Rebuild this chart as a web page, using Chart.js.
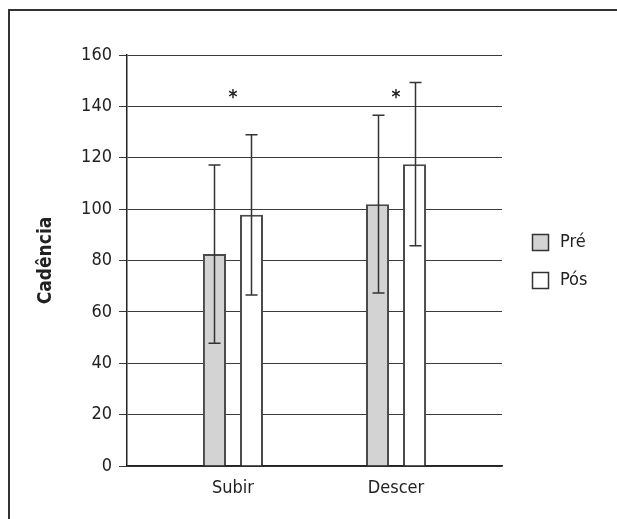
<!DOCTYPE html>
<html>
<head>
<meta charset="utf-8">
<script src="https://cdn.jsdelivr.net/npm/chart.js@4/dist/chart.umd.min.js"></script>
<style>
  html, body { margin: 0; padding: 0; background: #fff; }
  #wrap { position: relative; width: 617px; height: 519px; }
  #frame { position: absolute; left: 8px; top: 9px; width: 700px; height: 600px;
           border-top: 2px solid #333; border-left: 2px solid #333; pointer-events: none; }
</style>
</head>
<body>
<div id="wrap">
  <canvas id="c" width="617" height="519"></canvas>
  <div id="frame"></div>
</div>
<script>
const categories = ['Subir', 'Descer'];
const seriesNames = ['Pré', 'Pós'];
const preMeans = [82.5, 101.9];
const preSD = [34.7, 34.6];
const posMeans = [97.8, 117.5];
const posSD = [31.2, 31.8];
const significance = ['*', '*'];
const significanceLevel = 145;
const yTicks = [0, 20, 40, 60, 80, 100, 120, 140, 160];

const FONT = '"DejaVu Sans Condensed", "Liberation Sans Narrow", "Arial Narrow", "DejaVu Sans", sans-serif';

const toPoints = (vals) => vals.map((v, i) => ({ x: i + 1, y: v }));

const errorBars = {
  id: 'errorBars',
  afterDatasetsDraw(chart) {
    const ctx = chart.ctx;
    const ys = chart.scales.y;
    chart.data.datasets.forEach((ds, di) => {
      const meta = chart.getDatasetMeta(di);
      meta.data.forEach((bar, j) => {
        const m = ds.data[j].y, e = ds.errors[j];
        const yt = ys.getPixelForValue(m + e), yb = ys.getPixelForValue(m - e);
        const x = Math.round(bar.x) + 0.5;
        ctx.save();
        ctx.strokeStyle = '#333';
        ctx.lineWidth = 1.5;
        ctx.beginPath();
        ctx.moveTo(x, yt); ctx.lineTo(x, yb);
        ctx.moveTo(x - 6, yt); ctx.lineTo(x + 6, yt);
        ctx.moveTo(x - 6, yb); ctx.lineTo(x + 6, yb);
        ctx.stroke();
        ctx.restore();
      });
    });
    const xs = chart.scales.x;
    ctx.save();
    ctx.fillStyle = '#222';
    ctx.font = 'bold 19px ' + FONT;
    ctx.textAlign = 'center';
    ctx.textBaseline = 'alphabetic';
    significance.forEach((s, i) => {
      if (!s) return;
      ctx.fillText(s, xs.getPixelForValue(i + 1), ys.getPixelForValue(significanceLevel) + 9);
    });
    ctx.restore();
  }
};

const sideLegend = {
  id: 'sideLegend',
  afterDraw(chart) {
    const ctx = chart.ctx;
    const a = chart.chartArea;
    const cy = (a.top + a.bottom) / 2;
    const n = chart.data.datasets.length;
    const gap = 38;
    ctx.save();
    chart.data.datasets.forEach((ds, i) => {
      const y = cy + (i - (n - 1) / 2) * gap;
      const bx = a.right + 30.5, by = Math.round(y - 8) + 0.5;
      ctx.fillStyle = ds.backgroundColor;
      ctx.fillRect(bx, by, 16, 16);
      ctx.strokeStyle = '#333';
      ctx.lineWidth = 1.5;
      ctx.strokeRect(bx, by, 16, 16);
      ctx.fillStyle = '#222';
      ctx.font = '18px ' + FONT;
      ctx.textAlign = 'left';
      ctx.textBaseline = 'middle';
      ctx.fillText(ds.label, a.right + 58, y + 1);
    });
    ctx.restore();
  }
};

new Chart(document.getElementById('c'), {
  type: 'bar',
  data: {
    datasets: [
      { label: seriesNames[0], data: toPoints(preMeans), errors: preSD,
        backgroundColor: '#d3d3d3', borderColor: '#4a4a4a', borderWidth: 2 },
      { label: seriesNames[1], data: toPoints(posMeans), errors: posSD,
        backgroundColor: '#ffffff', borderColor: '#4a4a4a', borderWidth: 2 }
    ]
  },
  options: {
    responsive: false,
    animation: false,
    layout: { padding: { top: 55, right: 115, left: 0, bottom: 0 } },
    categoryPercentage: 0.454,
    barPercentage: 0.622,
    plugins: { legend: { display: false }, tooltip: { enabled: false } },
    scales: {
      x: {
        type: 'linear',
        offset: false,
        bounds: 'data',
        min: 0.35, max: 2.65,
        afterBuildTicks: (s) => { s.ticks = categories.map((c, i) => ({ value: i + 1 })); },
        afterFit: (s) => { s.height = 53; },
        grid: { display: false, drawTicks: false, offset: false },
        border: { display: true, color: '#222', width: 1.5 },
        ticks: {
          padding: 12,
          color: '#222',
          font: { family: FONT, size: 18 },
          callback: (v) => categories[v - 1] || ''
        }
      },
      y: {
        min: 0, max: 160,
        afterBuildTicks: (s) => { s.ticks = yTicks.map(v => ({ value: v })); },
        afterFit: (s) => { s.width = 127; },
        grid: { color: '#3a3a3a', lineWidth: 1, tickLength: 8, drawTicks: true },
        border: { display: true, color: '#222', width: 1.5 },
        ticks: { padding: 7, color: '#222', font: { family: FONT, size: 18 } },
        title: {
          display: true, text: 'Cadência', color: '#222',
          font: { family: FONT, size: 19, weight: 'bold' },
          padding: { top: 35, bottom: 0 }
        }
      }
    }
  },
  plugins: [errorBars, sideLegend]
});
</script>
</body>
</html>
